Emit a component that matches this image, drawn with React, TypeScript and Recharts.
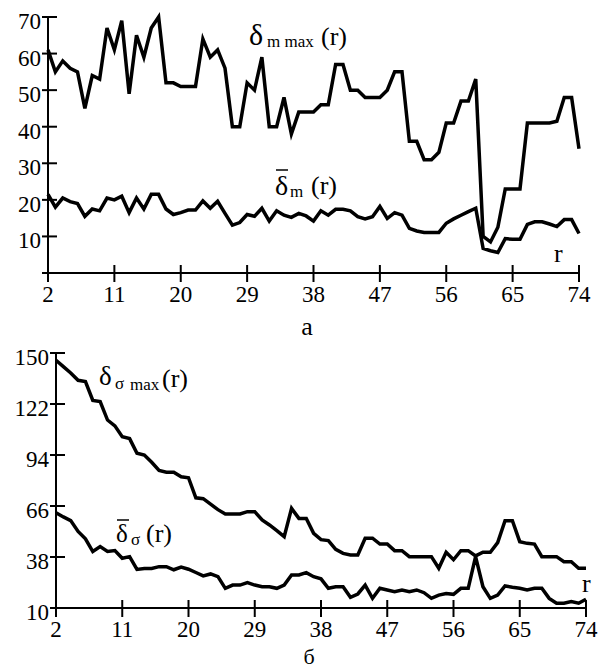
import { Line, LineChart, XAxis, YAxis } from 'recharts';

const rValues = [
  2, 3, 4, 5, 6, 7, 8, 9, 10, 11, 12, 13, 14, 15, 16, 17, 18, 19, 20, 21, 22, 23, 24, 25,
  26, 27, 28, 29, 30, 31, 32, 33, 34, 35, 36, 37, 38, 39, 40, 41, 42, 43, 44, 45, 46, 47, 48, 49,
  50, 51, 52, 53, 54, 55, 56, 57, 58, 59, 60, 61, 62, 63, 64, 65, 66, 67, 68, 69, 70, 71, 72, 73, 74,
];

// panel a
const mMax = [
  61, 55, 58, 56, 55, 45, 54, 53, 67, 61, 69, 49, 65, 59, 67, 70, 52, 52, 51, 51, 51, 64, 59, 61,
  56, 40, 40, 52, 50, 59, 40, 40, 48, 38, 44, 44, 44, 46, 46, 57, 57, 50, 50, 48, 48, 48, 50, 55,
  55, 36, 36, 31, 31, 33, 41, 41, 47, 47, 53, 10, 8.5, 12.5, 23, 23, 23, 41, 41, 41, 41, 41.5, 48, 48, 34,
];
const mMean = [
  21.5, 18, 20.5, 19.5, 19, 15.5, 17.5, 17, 20.5, 20, 21, 16.5, 20.5, 17.5, 21.5, 21.5, 17.5, 16, 16.5, 17.2, 17.2, 19.7, 17.7, 19.6,
  16.3, 13.1, 13.8, 16, 15.5, 17.7, 14.2, 17, 15.8, 15.2, 16.3, 15.6, 14.2, 17, 15.8, 17.4, 17.4, 17, 15.4, 14.8, 15.4, 18.2, 14.9, 16.5,
  15.8, 12.2, 11.5, 11.1, 11.1, 11.1, 13.6, 14.8, 15.8, 16.8, 17.7, 6.7, 6.1, 5.6, 9.4, 9.2, 9.2, 13.3, 14, 14, 13.4, 12.7, 14.6, 14.6, 10.8,
];

// panel б
const sMax = [
  146, 142.5, 139, 135, 134.3, 124, 123.3, 113.2, 110, 104, 103, 95, 94, 90, 85.5, 84.5, 84.5, 82, 81.5, 70.5, 70, 67, 64, 61.6,
  61.6, 61.6, 62.9, 62.9, 58.3, 55.6, 52.5, 49.2, 64.7, 59.2, 59.2, 51, 47.5, 47, 42.2, 40, 39.1, 39.1, 48.3, 48.3, 45.1, 45.1, 41.5, 41.5,
  38.2, 38.2, 38.2, 38.2, 31.8, 40.6, 36.5, 41.5, 41.5, 38.6, 40.6, 40.6, 45.9, 57.9, 57.9, 46.4, 45.5, 45.1, 38.2, 38.2, 38.2, 35.4, 35.4, 31.8, 31.8,
];
const sMean = [
  62.3, 60, 58, 52, 48, 41, 43.7, 41, 41.5, 37.3, 38.2, 31.2, 31.7, 31.7, 32.7, 32.7, 31, 32.5, 31.3, 29.5, 27.6, 28.7, 27.2, 20.8,
  22.6, 22.6, 23.9, 22.6, 21.7, 21.7, 20.8, 22.6, 28.1, 28.1, 29.4, 27.2, 26, 20.8, 21.7, 21.7, 15.9, 17.7, 22.6, 15.3, 20.8, 19.9, 19, 19.9,
  19, 19.9, 18.4, 15.3, 17.1, 18, 17.5, 20.8, 20.8, 38.2, 21.7, 15.3, 17.1, 22.1, 21.4, 20.8, 19.9, 20.8, 20.8, 15.3, 12.6, 12.6, 13.5, 12.6, 14.8,
];

const xTicks = [2, 11, 20, 29, 38, 47, 56, 65, 74];
const yTicksA = [0, 10, 20, 30, 40, 50, 60, 70];
const yTicksB = [10, 38, 66, 94, 122, 150];

const dataA = rValues.map((r, i) => ({ r, max: mMax[i], mean: mMean[i] }));
const dataB = rValues.map((r, i) => ({ r, max: sMax[i], mean: sMean[i] }));

const FONT = '"Liberation Serif", "Times New Roman", serif';

// ticks cross the axis line, so draw them together with the label
const YTick = (props: any) => {
  const { x, y, payload } = props;
  return (
    <g>
      <line x1={x - 6} x2={x + 9} y1={y} y2={y} stroke="#000" strokeWidth={2} />
      {payload.value !== 0 && (
        <text x={x - 7} y={y + 12} textAnchor="end" fontFamily={FONT} fontSize={23} fill="#000">
          {payload.value}
        </text>
      )}
    </g>
  );
};

const XTick = (props: any) => {
  const { x, y, payload } = props;
  return (
    <g>
      <line x1={x} x2={x} y1={y - 8} y2={y + 9} stroke="#000" strokeWidth={2} />
      <text x={x} y={y + 29} textAnchor="middle" fontFamily={FONT} fontSize={23} fill="#000">
        {payload.value}
      </text>
    </g>
  );
};

const axisLine = { stroke: '#000', strokeWidth: 2 };

export default function App() {
  return (
    <div style={{ position: 'absolute', left: 0, top: 0, width: 600, height: 670, background: '#fff' }}>
      <div style={{ position: 'absolute', left: 0, top: 0 }}>
        <LineChart width={600} height={320} data={dataA} margin={{ top: 17, right: 21, bottom: 0, left: 8 }}>
          <XAxis
            dataKey="r"
            type="number"
            domain={[2, 74]}
            ticks={xTicks}
            interval={0}
            height={47}
            tickSize={0}
            tickMargin={0}
            tickLine={false}
            axisLine={axisLine}
            tick={<XTick />}
          />
          <YAxis
            type="number"
            domain={[0, 70]}
            ticks={yTicksA}
            interval={0}
            width={40}
            tickSize={0}
            tickMargin={0}
            tickLine={false}
            axisLine={axisLine}
            tick={<YTick />}
          />
          <Line type="linear" dataKey="max" stroke="#000" strokeWidth={3.5} dot={false} isAnimationActive={false} />
          <Line type="linear" dataKey="mean" stroke="#000" strokeWidth={3.5} dot={false} isAnimationActive={false} />
        </LineChart>
      </div>
      <div style={{ position: 'absolute', left: 0, top: 320 }}>
        <LineChart width={600} height={350} data={dataB} margin={{ top: 33, right: 14, bottom: 0, left: 8 }}>
          <XAxis
            dataKey="r"
            type="number"
            domain={[2, 74]}
            ticks={xTicks}
            interval={0}
            height={62}
            tickSize={0}
            tickMargin={0}
            tickLine={false}
            axisLine={axisLine}
            tick={<XTick />}
          />
          <YAxis
            type="number"
            domain={[10, 150]}
            ticks={yTicksB}
            interval={0}
            width={48}
            tickSize={0}
            tickMargin={0}
            tickLine={false}
            axisLine={axisLine}
            tick={<YTick />}
          />
          <Line type="linear" dataKey="max" stroke="#000" strokeWidth={3.5} dot={false} isAnimationActive={false} />
          <Line type="linear" dataKey="mean" stroke="#000" strokeWidth={3.5} dot={false} isAnimationActive={false} />
        </LineChart>
      </div>
      <svg
        width={600}
        height={670}
        style={{ position: 'absolute', left: 0, top: 0, pointerEvents: 'none' }}
        fontFamily={FONT}
        fill="#000"
      >
        {/* panel a labels */}
        <text x={249} y={45} fontSize={30}>δ</text>
        <text x={267} y={47} fontSize={17}>m max</text>
        <text x={321} y={45} fontSize={26}>(r)</text>

        <line x1={276} x2={288} y1={170} y2={170} stroke="#000" strokeWidth={1.5} />
        <text x={275} y={195} fontSize={28}>δ</text>
        <text x={290} y={197} fontSize={17}>m</text>
        <text x={311} y={194} fontSize={26}>(r)</text>

        <text x={554} y={262} fontSize={26}>r</text>
        <text x={307} y={335} fontSize={26} textAnchor="middle">а</text>

        {/* panel б labels */}
        <text x={99} y={385} fontSize={27}>δ</text>
        <text x={115} y={389} fontSize={17}>σ</text>
        <text x={130} y={390} fontSize={17}>max</text>
        <text x={162} y={387} fontSize={26}>(r)</text>

        <line x1={117} x2={129} y1={520} y2={520} stroke="#000" strokeWidth={1.5} />
        <text x={116} y={542} fontSize={25}>δ</text>
        <text x={131} y={545} fontSize={17}>σ</text>
        <text x={146} y={542} fontSize={26}>(r)</text>

        <text x={582} y={592} fontSize={26}>r</text>
        <text x={309} y={664} fontSize={22} textAnchor="middle">б</text>
      </svg>
    </div>
  );
}
